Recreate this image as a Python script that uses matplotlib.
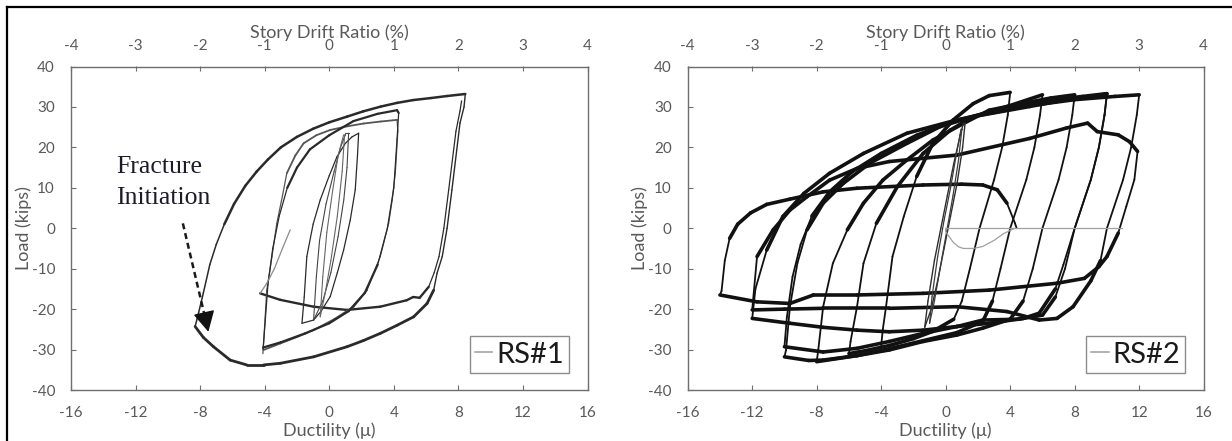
#!/usr/bin/env python3
"""
plot.py - cyclic load vs ductility hysteresis, two specimens (RS#1, RS#2).

Bottom axis: ductility mu, top axis: story drift ratio (%), y: load (kips).
Curves traced off the test record as (mu, load) polylines.

Output: out.png
"""
import numpy as np
import matplotlib
matplotlib.use("Agg")
import matplotlib.pyplot as plt
from matplotlib.lines import Line2D
from matplotlib.collections import LineCollection

plt.rcParams["font.family"] = ["Lato", "DejaVu Sans"]
plt.rcParams["axes.unicode_minus"] = False

# ---------------------------------------------------------------- RS#1 data
# outer envelope, loading branch (fracture point -> +8.4)
rs1_up_mu = [-8.31, -8.1, -7.8, -7.4, -7.0, -6.5, -5.9, -5.2, -4.5, -3.8,
             -3.0, -2.0, -1.0, 0.0, 1.1, 2.1, 3.2, 4.2, 5.2, 6.3, 7.3, 8.43]
rs1_up_load = [-24.3, -21.0, -16.0, -9.0, -4.0, 1.0, 6.0, 10.5, 14.0, 17.0,
               20.0, 22.6, 24.6, 26.2, 27.6, 28.9, 30.1, 31.0, 31.7, 32.2,
               32.7, 33.2]
# outer envelope, unloading branch (+8.4 -> fracture point)
rs1_down_mu = [8.43, 8.35, 8.1, 7.6, 7.3, 7.0, 6.68, 6.47, 6.06, 5.23, 4.2, 3.16,
               2.1, 1.10, -0.97, -3.04, -4.07, -5.11, -6.14, -7.17, -7.8, -8.31]
rs1_down_load = [33.2, 30.0, 26.0, 9.5, 0.0, -7.0, -11.1, -15.3, -18.6, -21.9,
                 -24.0, -26.0, -27.8, -29.3, -31.8, -33.4, -33.8, -33.8, -32.6,
                 -29.3, -27.0, -24.3]
# second unloading from +8.2 into the middle branch
rs1_mid_mu = [8.2, 8.1, 7.85, 7.4, 7.1, 6.8, 6.5, 6.16, 5.6, 5.2, 4.8, 3.16,
              1.1, -0.97, -3.04, -4.28]
rs1_mid_load = [31.5, 29.0, 24.0, 9.5, 0.0, -7.0, -11.0, -14.5, -17.2, -17.0,
                -17.8, -19.4, -20.2, -19.4, -17.7, -16.1]
# last reload (thin grey)
rs1_end_mu = [-4.28, -3.87, -3.4, -2.9, -2.42]
rs1_end_load = [-16.1, -13.6, -10.0, -5.0, -0.4]
# +/-4 cycles
rs1_c4a_mu = [-4.11, -4.0, -3.87, -3.55, -3.25, -2.9, -2.63, -2.1, -1.59, -0.8,
              0.06, 1.1, 2.13, 3.2, 4.2, 4.25, 4.09, 3.9, 3.68, 3.16, 2.34,
              1.51, 0.3, -0.97, -2.0, -3.04, -4.07]
rs1_c4a_load = [-31.0, -24.0, -15.3, -7.0, 1.2, 8.0, 13.6, 18.0, 21.0, 23.0,
                24.3, 25.2, 25.9, 26.4, 26.8, 24.0, 13.6, 7.0, 1.2, -7.0,
                -15.3, -19.4, -22.5, -25.2, -26.9, -28.5, -30.1]
rs1_c4b_mu = [-4.1, -3.95, -3.8, -3.5, -3.1, -2.6, -2.0, -1.2, 0.0, 1.5, 3.0,
              4.2, 4.3, 4.2, 4.0, 3.6, 3.0, 2.2, 1.2, 0.0, -1.5, -3.0, -4.1]
rs1_c4b_load = [-30.0, -22.0, -14.0, -5.0, 3.0, 10.0, 15.0, 19.5, 23.0, 26.5,
                28.3, 29.2, 28.5, 22.0, 10.0, 0.0, -9.0, -16.0, -20.5, -23.5,
                -26.0, -28.2, -29.5]
# small elastic cycles
rs1_sa_mu = [-1.69, -1.55, -1.39, -1.0, -0.56, 0.0, 0.48, 1.0, 1.41, 1.82,
             1.75, 1.61, 1.3, 0.89, 0.5, 0.06, -0.5, -0.97, -1.69]
rs1_sa_load = [-23.5, -17.0, -7.0, 1.0, 7.0, 13.0, 17.7, 21.0, 22.6, 23.5,
               18.0, 9.5, 2.0, -5.4, -11.0, -16.9, -20.5, -22.7, -23.5]
rs1_sb_mu = [-0.97, -0.8, -0.6, -0.2, 0.3, 0.7, 1.03, 1.2, 1.1, 0.9, 0.55,
             0.1, -0.4, -0.97]
rs1_sb_load = [-22.7, -12.0, -3.0, 6.0, 14.0, 20.0, 23.5, 23.5, 15.0, 7.0,
               -2.0, -11.0, -18.0, -22.7]
rs1_sc_mu = [-0.56, -0.4, -0.15, 0.2, 0.55, 0.89, 0.95, 0.8, 0.5, 0.1, -0.25,
             -0.56]
rs1_sc_load = [-21.9, -12.0, -1.0, 9.0, 18.0, 23.1, 23.1, 14.0, 3.0, -8.0,
               -16.0, -21.9]

# ---------------------------------------------------------------- RS#2 data
rs2_e1_mu = [-1.3, -1.1, -0.7, -0.3, 0.1, 0.5, 0.9, 1.1, 1.2, 1.05, 0.7, 0.3,
             -0.1, -0.5, -0.9, -1.3]
rs2_e1_load = [-24.5, -18, -8, 0, 8, 16, 23, 26, 26, 20, 11, 3, -5, -13, -20,
               -24.5]
rs2_e2_mu = [-1.0, -0.85, -0.5, -0.1, 0.3, 0.65, 0.95, 1.0, 0.8, 0.45, 0.05,
             -0.35, -0.7, -1.0]
rs2_e2_load = [-23.5, -17, -7, 2, 10, 18, 24.5, 24.5, 17, 8, -1, -10, -18,
               -23.5]
# reloading branches (negative corner -> positive peak)
rs2_u4_mu = [-4.0, -3.9, -3.7, -3.3, -2.6, -1.8, -0.8, 0.47, 1.7, 2.7, 4.0]
rs2_u4_load = [-29.0, -25.0, -19.4, -7.0, 2.9, 12.8, 21.0, 26.8, 30.8, 32.8,
               33.6]
rs2_u6_mu = [-6.0, -5.9, -5.5, -5.1, -4.3, -3.0, -1.4, 0.3, 1.7, 3.8, 6.0]
rs2_u6_load = [-31.0, -28.0, -19.4, -8.7, 1.2, 10.3, 18.5, 24.3, 27.6, 30.1,
               33.0]
rs2_u8_mu = [-8.0, -7.9, -7.6, -7.0, -6.1, -5.1, -3.9, -2.4, -0.8, 1.1, 2.7,
             4.8, 6.5, 8.0]
rs2_u8_load = [-33.0, -30.0, -19.4, -8.7, -0.4, 6.2, 11.9, 16.9, 21.8, 25.9,
               29.2, 30.9, 32.2, 33.0]
rs2_u10a_mu = [-10.0, -9.9, -9.66, -9.2, -8.6, -7.6, -6.35, -4.7, -2.4, -0.36,
               1.7, 5.2, 7.5, 10.0]
rs2_u10a_load = [-31.8, -30.1, -19.4, -8.7, -0.4, 6.2, 11.1, 16.1, 21.0, 25.1,
                 27.6, 30.1, 31.8, 33.2]
rs2_u10b_mu = [-10.0, -9.85, -9.5, -9.0, -8.3, -7.2, -5.8, -4.0, -1.8, 0.5,
               3.0, 6.0, 8.5, 10.0]
rs2_u10b_load = [-29.3, -22.0, -12.0, -4.0, 3.0, 9.0, 14.0, 18.5, 23.0, 26.5,
                 29.0, 31.5, 32.6, 33.3]
rs2_u12a_mu = [-12.0, -11.8, -11.1, -10.1, -8.8, -7.2, -5.1, -2.4, 0.7, 4.8,
               8.0, 10.5, 12.0]
rs2_u12a_load = [-22.3, -15.0, -5.4, 2.9, 8.6, 13.6, 18.5, 23.5, 26.8, 30.1,
                 31.8, 32.6, 33.0]
rs2_u12b_mu = [-12.0, -11.7, -10.7, -9.66, -8.6, -7.2, -5.5, -3.5, 0.7, 5.2,
               7.5, 8.8, 9.4, 10.7, 11.4, 11.9]
rs2_u12b_load = [-20.2, -7.0, -0.4, 4.5, 7.8, 11.9, 14.8, 16.5, 18.1, 22.2,
                 24.8, 26.0, 23.9, 23.1, 21.4, 19.0]
rs2_u14_mu = [-14.0, -13.9, -13.7, -13.4, -12.9, -12.1, -11.1, -9.66, -7.6,
              -5.5, -1.4, 1.0, 2.3, 3.2, 3.8, 4.3, 4.4]
rs2_u14_load = [-16.5, -15.5, -8.0, -2.5, 1.0, 3.8, 5.9, 7.2, 9.0, 9.9, 10.7,
                10.9, 10.7, 9.5, 6.2, 1.2, 0.0]
# unloading branches (positive peak -> negative corner)
rs2_d4_mu = [4.0, 3.85, 3.5, 3.0, 2.1, 1.5, 1.0, 0.5, -0.8, -2.0, -3.5, -5.0,
             -6.0]
rs2_d4_load = [33.6, 28.0, 20.0, 12.0, 0.0, -10.0, -18.0, -22.5, -25.5, -27.3,
               -29.0, -30.3, -31.0]
rs2_d6_mu = [6.0, 5.85, 5.5, 5.0, 4.0, 3.4, 2.9, 2.3, 0.7, -1.4, -3.5, -5.5,
             -8.0]
rs2_d6_load = [33.0, 28.0, 20.0, 12.0, 0.0, -10.0, -18.0, -23.0, -25.8, -27.8,
               -29.8, -31.5, -33.0]
rs2_d8_mu = [8.0, 7.85, 7.5, 7.0, 6.0, 5.4, 4.8, 4.0, 2.3, 0.7, -1.4, -3.5,
             -5.5, -7.6, -8.5, -10.0]
rs2_d8_load = [33.0, 28.0, 20.0, 12.0, 0.0, -10.0, -18.0, -22.5, -24.7, -26.4,
               -28.0, -30.1, -31.5, -32.6, -32.7, -31.8]
rs2_d10a_mu = [10.0, 9.85, 9.5, 9.0, 8.0, 7.4, 6.8, 6.0, 4.5, 2.3, 0.7, -1.4,
               -3.5, -5.5, -7.6, -10.0]
rs2_d10a_load = [33.2, 28.0, 20.0, 12.0, 0.0, -10.0, -17.0, -21.5, -22.5,
                 -22.7, -24.3, -26.0, -28.0, -29.7, -30.6, -29.3]
rs2_d10b_mu = [10.0, 9.85, 9.5, 9.0, 8.0, 7.3, 6.8, 5.8, 4.8, 2.7, 0.7, -1.4,
               -3.5, -5.5, -7.6, -9.66, -12.0]
rs2_d10b_load = [33.3, 28.0, 20.0, 12.0, 0.0, -9.0, -15.0, -21.0, -22.3, -23.5,
                 -24.3, -25.2, -25.6, -25.2, -24.5, -23.5, -22.3]
rs2_d12a_mu = [12.0, 11.85, 11.5, 11.0, 10.0, 9.6, 9.0, 7.9, 6.9, 5.8, 3.8,
               0.7, -3.5, -7.6, -10.0, -12.0]
rs2_d12a_load = [33.0, 28.0, 20.0, 12.0, 0.0, -8.0, -13.0, -19.4, -22.3, -22.7,
                 -20.6, -19.4, -19.8, -19.8, -20.0, -20.2]
rs2_d12b_mu = [11.9, 11.7, 11.2, 10.7, 10.0, 9.5, 8.6, 6.9, 2.7, -1.4, -5.5,
               -8.2, -9.66, -11.7, -14.0]
rs2_d12b_load = [19.0, 12.0, 5.4, -1.2, -7.0, -9.5, -12.4, -13.6, -15.3, -16.1,
                 -16.5, -16.5, -18.6, -18.2, -16.5]
# final thin trace after fracture
rs2_zero_mu = [0.06, 10.96]
rs2_zero_load = [0.0, 0.0]
rs2_dip_mu = [0.0, 0.0, 0.2, 0.47, 0.8, 1.1, 1.7, 2.3, 3.0, 3.6, 4.3]
rs2_dip_load = [0.0, -0.8, -2.0, -3.5, -4.6, -5.0, -5.0, -4.5, -3.0, -1.3, 0.0]

DUCT_TICKS = [-16, -12, -8, -4, 0, 4, 8, 12, 16]
DRIFT_TICKS = [-4, -3, -2, -1, 0, 1, 2, 3, 4]
LOAD_TICKS = [-40, -30, -20, -10, 0, 10, 20, 30, 40]

GREY_TXT = "#595959"
W, H, DPI = 1232, 441, 100


def hyst(ax, mu, load, color, lw_flat, lw_steep):
    """Draw a traced branch; flat (noisy plateau) parts heavier than the
    steep elastic parts, as in the scanned record."""
    x = np.asarray(mu, float)
    y = np.asarray(load, float)
    seg = np.stack([np.column_stack([x[:-1], y[:-1]]),
                    np.column_stack([x[1:], y[1:]])], axis=1)
    dx = np.abs(np.diff(x)) * 16.125
    dy = np.abs(np.diff(y)) * 4.044
    steep = dy > 2.2 * dx
    lws = np.where(steep, lw_steep, lw_flat)
    lc = LineCollection(seg, colors=color, linewidths=lws, capstyle="round",
                        joinstyle="round", zorder=3)
    ax.add_collection(lc)


def setup_axes(ax, label):
    ax.set_xlim(-16, 16)
    ax.set_ylim(-40, 40)
    ax.set_xticks(DUCT_TICKS)
    ax.set_yticks(LOAD_TICKS)
    for s in ax.spines.values():
        s.set_color("#6e6e6e")
        s.set_linewidth(1.0)
    ax.tick_params(direction="in", length=3.5, width=0.8, color="#6e6e6e",
                   labelcolor=GREY_TXT, labelsize=11)
    ax.tick_params(axis="x", pad=11.5)
    ax.tick_params(axis="y", pad=11.5)
    ax.set_xlabel("Ductility (μ)", fontsize=13, color=GREY_TXT, labelpad=1.5)
    ax.set_ylabel("Load (kips)", fontsize=13, color=GREY_TXT, labelpad=0)

    top = ax.twiny()
    top.set_xlim(-4, 4)
    top.set_xticks(DRIFT_TICKS)
    top.tick_params(direction="in", length=3.5, width=0.8, color="#6e6e6e",
                    labelcolor=GREY_TXT, labelsize=11, pad=9.4)
    for s in top.spines.values():
        s.set_visible(False)
    top.set_xlabel("Story Drift Ratio (%)", fontsize=13, color=GREY_TXT,
                   labelpad=1.2)

    handle = Line2D([], [], color="#a6a6a6", lw=1.2)
    leg = ax.legend([handle], [label], loc="lower right",
                    bbox_to_anchor=(0.964, 0.053), fontsize=21,
                    frameon=True, fancybox=False, framealpha=1,
                    edgecolor="#8c8c8c", handlelength=0.6,
                    handletextpad=0.12, borderpad=0.18, borderaxespad=0)
    leg.get_frame().set_linewidth(1.0)
    for t in leg.get_texts():
        t.set_color("#1a1a1a")
    return top


def panel_rs1(ax):
    dark = "#2a2a2a"
    hyst(ax, rs1_up_mu, rs1_up_load, dark, 1.8, 1.1)
    hyst(ax, rs1_down_mu, rs1_down_load, dark, 2.0, 1.0)
    hyst(ax, rs1_mid_mu, rs1_mid_load, dark, 1.7, 0.9)
    hyst(ax, rs1_c4a_mu, rs1_c4a_load, "#555555", 1.3, 0.9)
    hyst(ax, rs1_c4b_mu, rs1_c4b_load, dark, 1.6, 0.9)
    hyst(ax, rs1_sa_mu, rs1_sa_load, dark, 0.9, 0.9)
    hyst(ax, rs1_sb_mu, rs1_sb_load, "#444444", 0.8, 0.8)
    hyst(ax, rs1_sc_mu, rs1_sc_load, "#666666", 0.8, 0.8)
    hyst(ax, rs1_end_mu, rs1_end_load, "#8a8a8a", 0.9, 0.9)

    serif = ["Liberation Serif", "DejaVu Serif"]
    ax.text(-13.2, 15.1, "Fracture", family=serif, fontsize=18.5,
            color="#1c1c28", va="center", ha="left", zorder=5)
    ax.text(-13.2, 7.5, "Initiation", family=serif, fontsize=18.5,
            color="#1c1c28", va="center", ha="left", zorder=5)
    ax.plot([-9.07, -7.72], [1.2, -21.6], color="#1a1a1a", lw=1.8,
            ls=(0, (2.4, 1.6)), zorder=5)
    ax.annotate("", xy=(-7.49, -25.6), xytext=(-7.72, -21.6),
                arrowprops=dict(arrowstyle="-|>,head_length=0.85,head_width=0.45",
                                color="#111111", lw=1.0, mutation_scale=15,
                                shrinkA=0, shrinkB=0),
                zorder=6)


def panel_rs2(ax):
    blk = "#111111"
    for mu, ld in [(rs2_u4_mu, rs2_u4_load), (rs2_u6_mu, rs2_u6_load),
                   (rs2_u8_mu, rs2_u8_load), (rs2_u10a_mu, rs2_u10a_load),
                   (rs2_u10b_mu, rs2_u10b_load), (rs2_u12a_mu, rs2_u12a_load),
                   (rs2_u12b_mu, rs2_u12b_load), (rs2_u14_mu, rs2_u14_load),
                   (rs2_d4_mu, rs2_d4_load), (rs2_d6_mu, rs2_d6_load),
                   (rs2_d8_mu, rs2_d8_load), (rs2_d10a_mu, rs2_d10a_load),
                   (rs2_d10b_mu, rs2_d10b_load), (rs2_d12a_mu, rs2_d12a_load),
                   (rs2_d12b_mu, rs2_d12b_load)]:
        hyst(ax, mu, ld, blk, 2.6, 1.3)
    hyst(ax, rs2_e1_mu, rs2_e1_load, "#2e2e2e", 1.0, 1.0)
    hyst(ax, rs2_e2_mu, rs2_e2_load, "#3c3c3c", 0.9, 0.9)
    ax.plot(rs2_zero_mu, rs2_zero_load, color="#a0a0a0", lw=0.9, zorder=3)
    ax.plot(rs2_dip_mu, rs2_dip_load, color="#a0a0a0", lw=0.9, zorder=3)


def main():
    fig = plt.figure(figsize=(W / DPI, H / DPI), dpi=DPI)
    ax_a = fig.add_axes([71 / W, 1 - 390 / H, 516.5 / W, 323.5 / H])
    ax_b = fig.add_axes([687.7 / W, 1 - 390 / H, 516 / W, 323.5 / H])

    panel_rs1(ax_a)
    panel_rs2(ax_b)
    setup_axes(ax_a, "RS#1")
    setup_axes(ax_b, "RS#2")

    # scanned-figure frame (top and left edge)
    fig.add_artist(Line2D([7 / W, 1.0], [1 - 7 / H, 1 - 7 / H],
                          transform=fig.transFigure, color="black", lw=1.6))
    fig.add_artist(Line2D([7 / W, 7 / W], [0.0, 1 - 7 / H],
                          transform=fig.transFigure, color="black", lw=1.6))

    fig.savefig("out.png", dpi=DPI)
    plt.close(fig)


if __name__ == "__main__":
    main()
